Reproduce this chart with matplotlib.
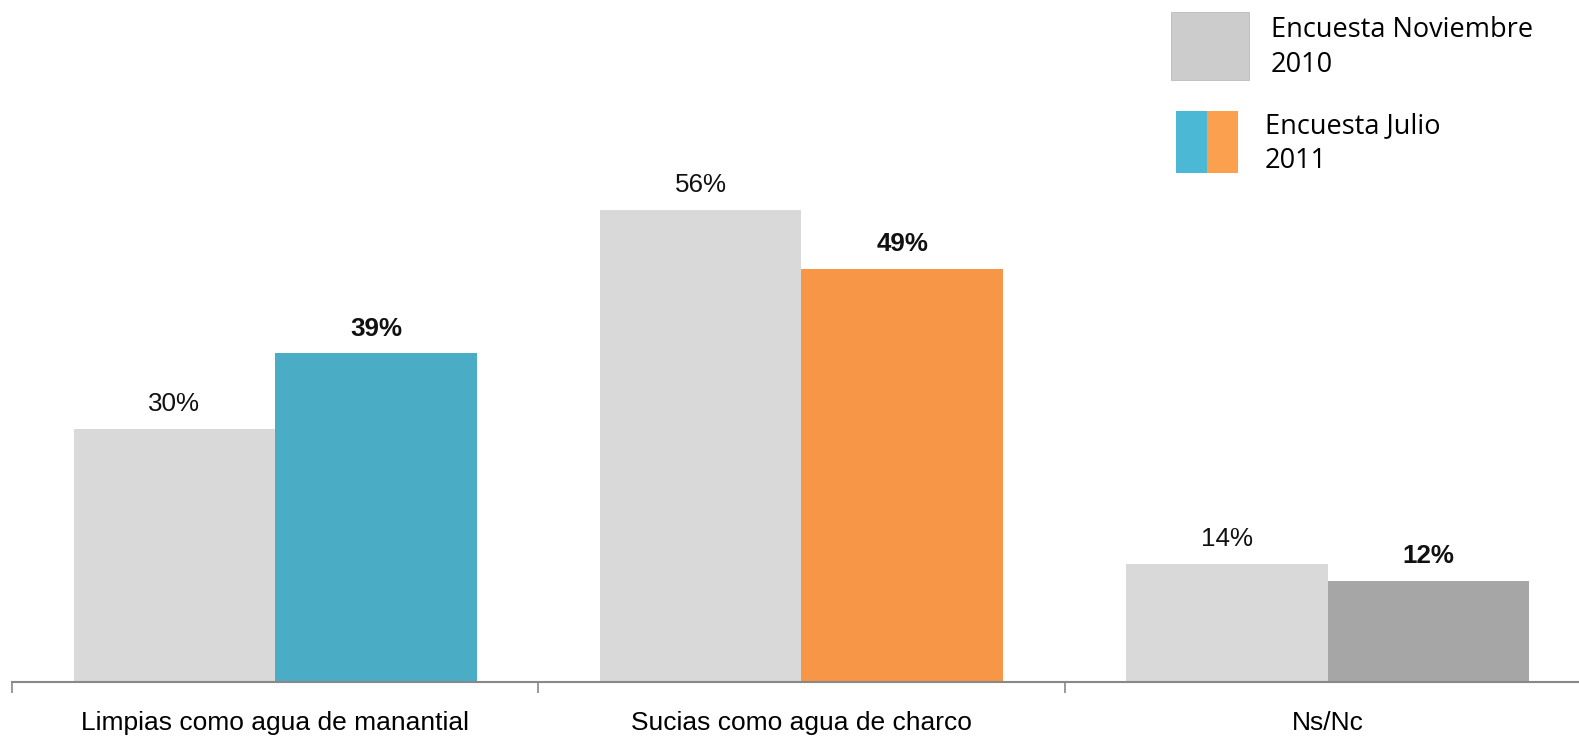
import matplotlib
matplotlib.use("Agg")
import matplotlib.pyplot as plt
from matplotlib.patches import Rectangle
import numpy as np

categories = ["Limpias como agua de manantial", "Sucias como agua de charco", "Ns/Nc"]
nov2010 = [30, 56, 14]
jul2011 = [39, 49, 12]
jul_colors = ["#4BACC6", "#F79646", "#A6A6A6"]
legend_labels = ["Encuesta Noviembre\n2010", "Encuesta Julio\n2011"]

W, H = 1579, 738
fig = plt.figure(figsize=(W/100, H/100), dpi=100)
base = 682
ax = fig.add_axes([12/W, (H-base)/H, 3*526.3/W, base/H])

x = np.arange(len(categories))
bw = 0.383
ax.bar(x - bw/2, nov2010, width=bw, color="#D9D9D9", edgecolor="none")
ax.bar(x + bw/2, jul2011, width=bw, color=jul_colors, edgecolor="none")

for xi, v in zip(x, nov2010):
    ax.text(xi - bw/2, v + 1.5, f"{v}%", ha="center", va="bottom",
            fontsize=18.7, family="Liberation Sans", color="#111111")
for xi, v in zip(x, jul2011):
    ax.text(xi + bw/2, v + 1.5, f"{v}%", ha="center", va="bottom",
            fontsize=18.7, family="Liberation Sans", fontweight="bold", color="#111111")

ax.set_xlim(-0.5, 2.5)
ax.set_ylim(0, 80.9)
ax.set_xticks([-0.5, 0.5, 1.5, 2.5])
ax.set_xticklabels([])
ax.set_xticks(x, minor=True)
ax.set_xticklabels(categories, minor=True, fontsize=19, family="Liberation Sans")
ax.tick_params(axis="x", which="minor", length=0, pad=21)
ax.tick_params(axis="x", which="major", length=8, color="#888888", width=1.2)
ax.set_yticks([])
for s in ["top", "right", "left"]:
    ax.spines[s].set_visible(False)
ax.spines["bottom"].set_color("#888888")
ax.spines["bottom"].set_linewidth(1.5)

# Legend
fig.patches.append(Rectangle((1171/W, 1-(12+67.5)/H), 77.5/W, 67.5/H, transform=fig.transFigure,
                             facecolor="#CCCCCC", edgecolor="#BBBBBB", linewidth=0.6))
fig.patches.append(Rectangle((1176/W, 1-173/H), 31.2/W, 62/H, transform=fig.transFigure,
                             facecolor="#4BB8D6", edgecolor="none"))
fig.patches.append(Rectangle((1207.2/W, 1-173/H), 31.2/W, 62/H, transform=fig.transFigure,
                             facecolor="#FBA04F", edgecolor="none"))
fig.text(1271/W, 1-47.5/H, legend_labels[0], fontsize=19.5, family="Open Sans",
         va="center", ha="left", linespacing=1.36)
fig.text(1265/W, 1-143.5/H, legend_labels[1], fontsize=19.5, family="Open Sans",
         va="center", ha="left", linespacing=1.36)

fig.savefig("out.png", dpi=100)
